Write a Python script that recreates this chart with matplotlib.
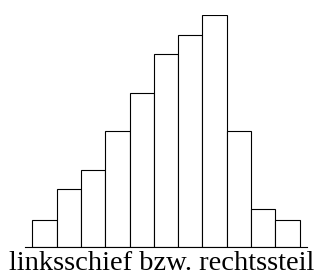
import matplotlib.pyplot as plt
import numpy as np

# bar heights (arbitrary units)
heights = [1.4, 3, 4, 6, 8, 10, 11, 12, 6, 2, 1.4]
label = "linksschief bzw. rechtssteil"

fig = plt.figure(figsize=(3.24, 2.75), dpi=100)
ax = fig.add_axes([25 / 324, (275 - 247.3) / 275, 282 / 324, 232 / 275])

x = np.arange(len(heights))
ax.bar(x, heights, width=1.0, color="white", edgecolor="black", linewidth=0.8)
ax.set_xlim(-0.8, 10.8)
ax.set_ylim(0, 12)

for s in ["top", "left", "right"]:
    ax.spines[s].set_visible(False)
ax.spines["bottom"].set_linewidth(0.8)
ax.set_xticks([])
ax.set_yticks([])

fig.text(0.5, (275 - 269.5) / 275, label, ha="center", va="baseline",
         family="Liberation Serif", fontsize=20.5)

fig.savefig("out.png", dpi=100)
